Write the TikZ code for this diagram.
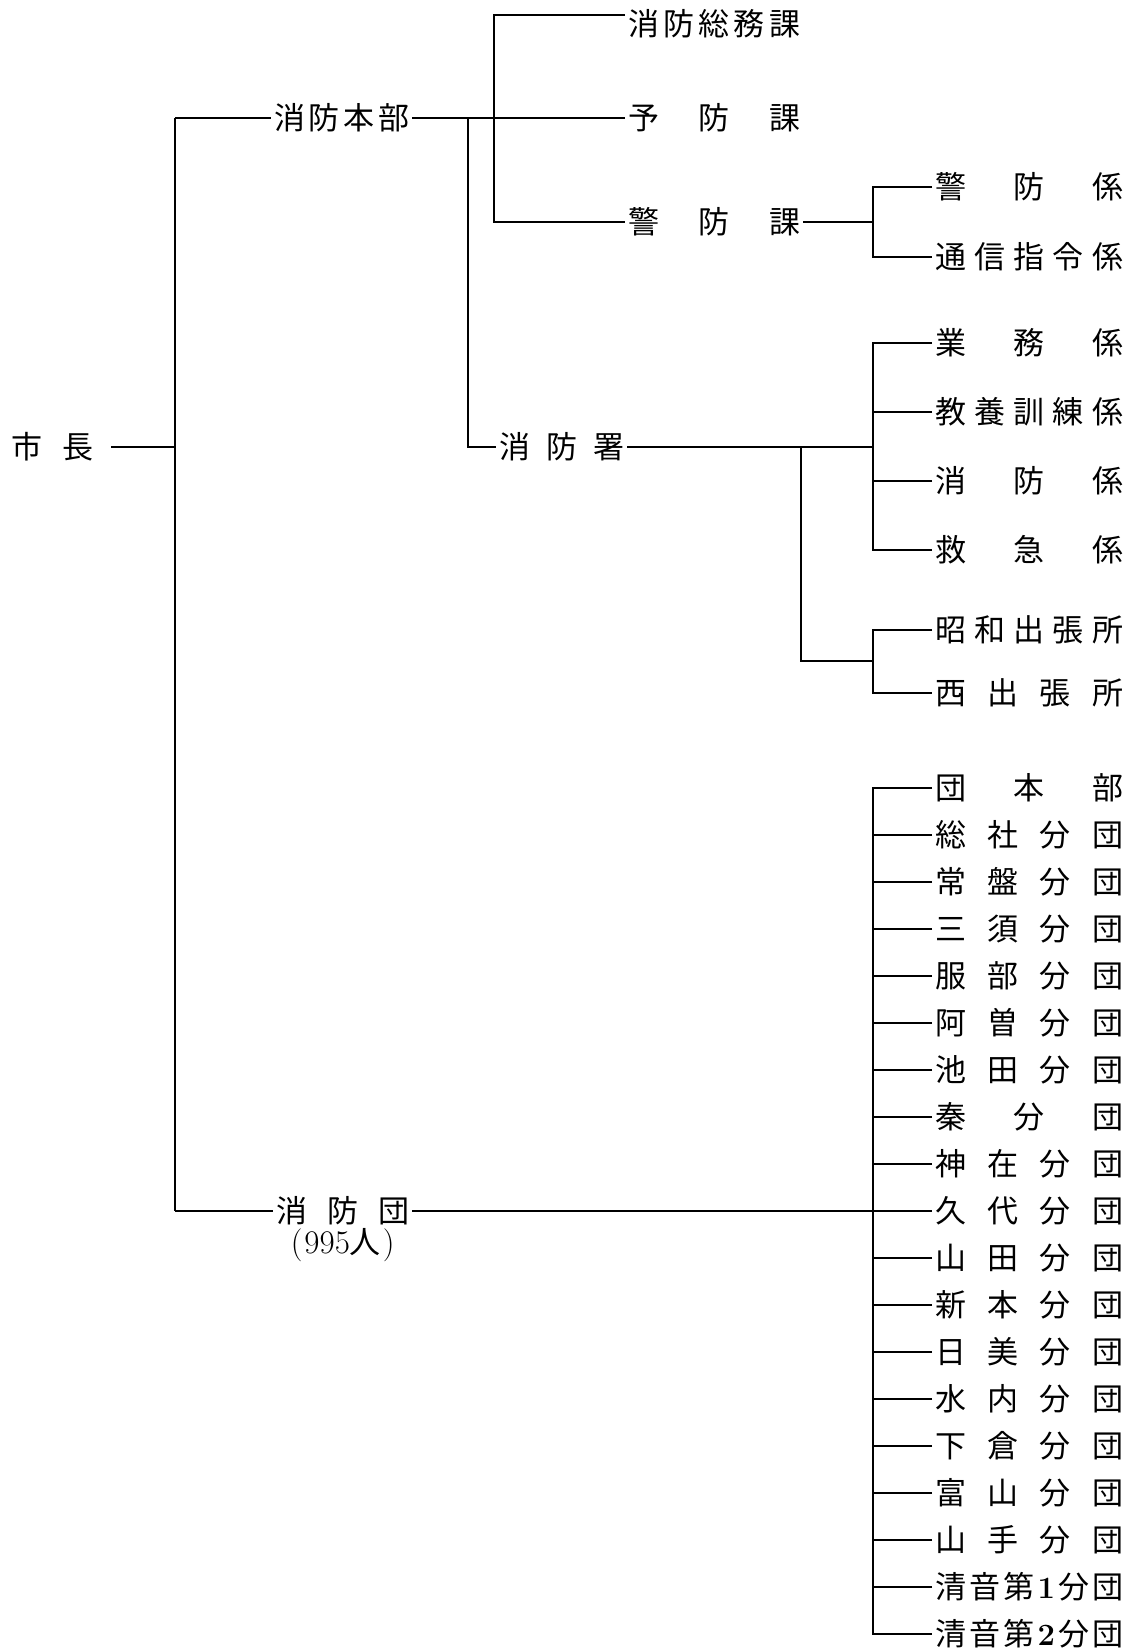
\documentclass[tikz,border=0pt]{standalone}
\usepackage{fontspec}
\newfontfamily\jp{Noto Sans CJK JP}
\usepackage{tikz}
\newcommand{\spreadtext}[2]{\hbox to #1{#2}}
\tikzstyle{unit} = [inner xsep=3pt, inner ysep=0pt, text height=25.7pt, text depth=2.2pt, font=\jp\fontsize{31pt}{34pt}\selectfont]
\tikzstyle{line} = [line width=1.2pt, black]

\begin{document}
\begin{tikzpicture}[x=1pt, y=-1pt, node distance=47pt]
\useasboundingbox (0,0) rectangle (1127,1651);
\tikzset{leaf/.style = {unit, anchor=west}}

\node (mayor) [leaf] at (8,447) {\spreadtext{82pt}{市\hfil 長}};
\coordinate (trunk) at (175,447);
\coordinate (trunktop) at (175,118);
\coordinate (trunkbot) at (175,1211);
\draw [line] ([xshift=15pt]mayor.east) -- (trunk);
\draw [line] (trunktop) -- (trunkbot);

\node (hq) [leaf] at (271,118) {\spreadtext{135pt}{消\hfil 防\hfil 本\hfil 部}};
\node (corps) [leaf] at (273,1211) {\spreadtext{133pt}{消\hfil 防\hfil 団}};
\node (count) [unit, below of=corps, node distance=31pt] {{\rmfamily\fontsize{33pt}{36pt}\selectfont(\kern2pt 995}人{\rmfamily\fontsize{33pt}{36pt}\selectfont\kern2pt)}};
\draw [line] (trunktop) -- (hq.west);
\draw [line] (trunkbot) -- (corps.west);

\node (gen) [leaf] at (625,24) {\spreadtext{172pt}{消\hfil 防\hfil 総\hfil 務\hfil 課}};
\node (prev) [leaf] at (625,118) {\spreadtext{172pt}{予\hfil 防\hfil 課}};
\node (pol) [leaf] at (625,222) {\spreadtext{172pt}{警\hfil 防\hfil 課}};
\node (stn) [leaf] at (496,447) {\spreadtext{125pt}{消\hfil 防\hfil 署}};
\coordinate (secbus) at (494,15);
\coordinate (stnbus) at (468,118);
\draw [line] (hq.east) -- (prev.west);
\draw [line] (gen.west |- secbus) -- (secbus) |- (pol.west);
\draw [line] (stnbus) |- (stn.west);

\node (k1) [leaf] at (932,187) {\spreadtext{188pt}{警\hfil 防\hfil 係}};
\node (k2) [leaf] at (932,257) {\spreadtext{188pt}{通\hfil 信\hfil 指\hfil 令\hfil 係}};
\coordinate (polbus) at (873,222);
\draw [line] (pol.east) -- (polbus);
\draw [line] (k1.west) -| (polbus) |- (k2.west);

\node (s1) [leaf] at (932,343) {\spreadtext{188pt}{業\hfil 務\hfil 係}};
\node (s2) [leaf] at (932,412) {\spreadtext{188pt}{教\hfil 養\hfil 訓\hfil 練\hfil 係}};
\node (s3) [leaf] at (932,481) {\spreadtext{188pt}{消\hfil 防\hfil 係}};
\node (s4) [leaf] at (932,550) {\spreadtext{188pt}{救\hfil 急\hfil 係}};
\node (o1) [leaf] at (932,630) {\spreadtext{188pt}{昭\hfil 和\hfil 出\hfil 張\hfil 所}};
\node (o2) [leaf] at (932,693) {\spreadtext{188pt}{西\hfil 出\hfil 張\hfil 所}};
\coordinate (stnbus1) at (873,447);
\coordinate (stnbus2) at (801,447);
\coordinate (brbus) at (873,661);
\draw [line] (stn.east) -- (stnbus1);
\draw [line] (s1.west) -| (stnbus1) |- (s4.west);
\draw [line] (s2.west) -- (s2.west -| stnbus1);
\draw [line] (s3.west) -- (s3.west -| stnbus1);
\draw [line] (stnbus2) |- (brbus);
\draw [line] (o1.west) -| (brbus) |- (o2.west);

\node (b0) [leaf] at (932,788) {\spreadtext{188pt}{団\hfil 本\hfil 部}};
\node (b1) [unit, below of=b0] {\spreadtext{188pt}{総\hfil 社\hfil 分\hfil 団}};
\node (b2) [unit, below of=b1] {\spreadtext{188pt}{常\hfil 盤\hfil 分\hfil 団}};
\node (b3) [unit, below of=b2] {\spreadtext{188pt}{三\hfil 須\hfil 分\hfil 団}};
\node (b4) [unit, below of=b3] {\spreadtext{188pt}{服\hfil 部\hfil 分\hfil 団}};
\node (b5) [unit, below of=b4] {\spreadtext{188pt}{阿\hfil 曽\hfil 分\hfil 団}};
\node (b6) [unit, below of=b5] {\spreadtext{188pt}{池\hfil 田\hfil 分\hfil 団}};
\node (b7) [unit, below of=b6] {\spreadtext{188pt}{秦\hfil 分\hfil 団}};
\node (b8) [unit, below of=b7] {\spreadtext{188pt}{神\hfil 在\hfil 分\hfil 団}};
\node (b9) [unit, below of=b8] {\spreadtext{188pt}{久\hfil 代\hfil 分\hfil 団}};
\node (b10) [unit, below of=b9] {\spreadtext{188pt}{山\hfil 田\hfil 分\hfil 団}};
\node (b11) [unit, below of=b10] {\spreadtext{188pt}{新\hfil 本\hfil 分\hfil 団}};
\node (b12) [unit, below of=b11] {\spreadtext{188pt}{日\hfil 美\hfil 分\hfil 団}};
\node (b13) [unit, below of=b12] {\spreadtext{188pt}{水\hfil 内\hfil 分\hfil 団}};
\node (b14) [unit, below of=b13] {\spreadtext{188pt}{下\hfil 倉\hfil 分\hfil 団}};
\node (b15) [unit, below of=b14] {\spreadtext{188pt}{富\hfil 山\hfil 分\hfil 団}};
\node (b16) [unit, below of=b15] {\spreadtext{188pt}{山\hfil 手\hfil 分\hfil 団}};
\node (b17) [unit, below of=b16] {\spreadtext{188pt}{清\hfil 音\hfil 第\hfil {\rmfamily\bfseries 1}\hfil 分\hfil 団}};
\node (b18) [unit, below of=b17] {\spreadtext{188pt}{清\hfil 音\hfil 第\hfil {\rmfamily\bfseries 2}\hfil 分\hfil 団}};
\coordinate (corpsbus) at (873,1211);
\draw [line] (corps.east) -- (b9.west);
\draw [line] (b0.west) -| (corpsbus) |- (b18.west);
\draw [line] (b1.west) -- (b1.west -| corpsbus);
\draw [line] (b2.west) -- (b2.west -| corpsbus);
\draw [line] (b3.west) -- (b3.west -| corpsbus);
\draw [line] (b4.west) -- (b4.west -| corpsbus);
\draw [line] (b5.west) -- (b5.west -| corpsbus);
\draw [line] (b6.west) -- (b6.west -| corpsbus);
\draw [line] (b7.west) -- (b7.west -| corpsbus);
\draw [line] (b8.west) -- (b8.west -| corpsbus);
\draw [line] (b10.west) -- (b10.west -| corpsbus);
\draw [line] (b11.west) -- (b11.west -| corpsbus);
\draw [line] (b12.west) -- (b12.west -| corpsbus);
\draw [line] (b13.west) -- (b13.west -| corpsbus);
\draw [line] (b14.west) -- (b14.west -| corpsbus);
\draw [line] (b15.west) -- (b15.west -| corpsbus);
\draw [line] (b16.west) -- (b16.west -| corpsbus);
\draw [line] (b17.west) -- (b17.west -| corpsbus);

\end{tikzpicture}
\end{document}
